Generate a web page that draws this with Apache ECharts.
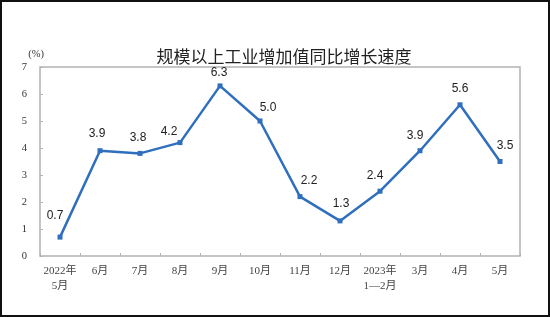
<!DOCTYPE html>
<html>
<head>
<meta charset="utf-8">
<script src="https://cdn.jsdelivr.net/npm/echarts@6/dist/echarts.min.js"></script>
<style>
html,body{margin:0;padding:0;background:#fff;}
#c{width:550px;height:317px;}
</style>
</head>
<body>
<div id="c"></div>
<script>
const categories = ['2022年\n5月','6月','7月','8月','9月','10月','11月','12月','2023年\n1—2月','3月','4月','5月'];
const values = [0.7, 3.9, 3.8, 4.2, 6.3, 5.0, 2.2, 1.3, 2.4, 3.9, 5.6, 3.5];
const yTicks = [0,1,2,3,4,5,6,7];
const titleText = '规模以上工业增加值同比增长速度';
const unitText = '(%)';

const labelOffsets = [[-5,-8],[-3,-4],[-2,-2],[-11,3],[-1,0],[8,0],[9,-2],[1,-4],[-5,-2],[-5,-2],[0,-3],[5,-2]];

const chart = echarts.init(document.getElementById('c'));
const serif = '"Liberation Serif", "Noto Sans CJK SC", serif';
chart.setOption({
  backgroundColor: '#fff',
  animation: false,
  title: {
    text: titleText,
    left: 279, top: 52, textAlign: 'center', textVerticalAlign: 'middle',
    textStyle: {fontFamily: '"Noto Sans CJK SC", sans-serif', fontSize: 17, fontWeight: 'normal', color: '#222'}
  },
  graphic: [{
    type: 'rect', silent: true,
    shape: {x: 1, y: 1, width: 548, height: 315},
    style: {fill: 'none', stroke: '#111', lineWidth: 2}
  }],
  grid: {left: 40, top: 67, width: 480, height: 189, show: true, borderColor: '#b3b3b3', borderWidth: 1.5, containLabel: false},
  xAxis: {
    type: 'category', data: categories, boundaryGap: true,
    axisLine: {show: false},
    axisTick: {show: true, inside: true, length: 3, lineStyle: {color: '#b3b3b3'}},
    axisLabel: {margin: 8, fontFamily: serif, fontSize: 11, color: '#444', lineHeight: 15, interval: 0}
  },
  yAxis: {
    type: 'value', min: yTicks[0], max: yTicks[yTicks.length-1], interval: 1,
    name: unitText, nameLocation: 'end', nameGap: 8,
    nameTextStyle: {fontFamily: serif, fontSize: 10.5, color: '#333', align: 'right', padding: [0, -4, 0, 0]},
    splitLine: {show: false},
    axisLine: {show: false},
    axisTick: {show: true, inside: true, length: 3, lineStyle: {color: '#b3b3b3'}},
    axisLabel: {margin: 13, fontFamily: serif, fontSize: 10.5, color: '#333'}
  },
  series: [{
    type: 'line',
    data: values.map((v, i) => ({value: v, label: {offset: labelOffsets[i]}})),
    symbol: 'rect', symbolSize: 5,
    lineStyle: {color: '#2f6fbd', width: 2.5},
    itemStyle: {color: '#2f6fbd'},
    label: {show: true, position: 'top', distance: 5, fontFamily: '"Liberation Sans", Arial, sans-serif', fontSize: 12, color: '#222',
      formatter: p => p.value.toFixed(1)}
  }]
});
</script>
</body>
</html>
